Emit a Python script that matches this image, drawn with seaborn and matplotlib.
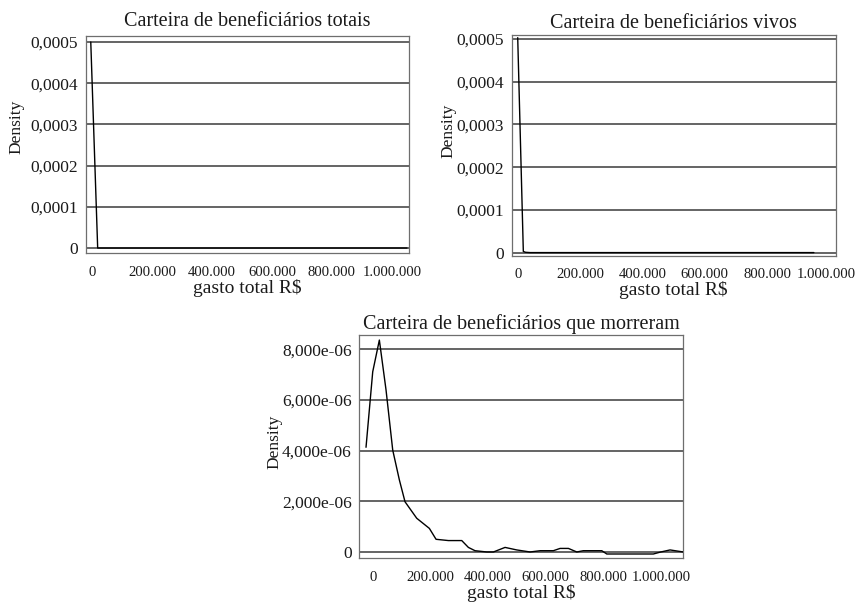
import matplotlib
matplotlib.use("Agg")
import matplotlib.pyplot as plt
import matplotlib.transforms as mtransforms
import seaborn as sns
import pandas as pd
from matplotlib.ticker import FixedLocator, FixedFormatter

# Density of total spending (R$) for each group of beneficiaries
totais_gasto = [-4000, 19000, 1050000]
totais_dens = [0.0005, 0.0, 0.0]

vivos_gasto = [0, 18000, 25000, 40000, 950000]
vivos_dens = [0.000503, 0.000003, 0.000001, 0.0000003, 0.0000003]

morreram_gasto = [-23300, 0, 23000, 46200, 69400, 92500, 112100, 152700, 196600,
                  219800, 262600, 309000, 332000, 355000, 395800, 418900, 459300,
                  500000, 546000, 580900, 627000, 650300, 679200, 708300, 731000,
                  795000, 812400, 974000, 1000000, 1032000, 1078000]
morreram_dens = [4.13e-6, 7.11e-6, 8.36e-6, 6.39e-6, 4.02e-6, 2.84e-6, 1.98e-6,
                 1.33e-6, 0.93e-6, 0.50e-6, 0.45e-6, 0.45e-6, 0.18e-6, 0.05e-6,
                 0.0, 0.0, 0.18e-6, 0.08e-6, 0.0, 0.05e-6, 0.05e-6, 0.14e-6,
                 0.14e-6, 0.0, 0.05e-6, 0.05e-6, -0.08e-6, -0.08e-6, 0.0,
                 0.08e-6, 0.0]

titulos = ["Carteira de beneficiários totais",
           "Carteira de beneficiários vivos",
           "Carteira de beneficiários que morreram"]

x_ticks = [0, 200000, 400000, 600000, 800000, 1000000]
x_ticklabels = ["0", "200.000", "400.000", "600.000", "800.000", "1.000.000"]

y_ticks_small = [0, 0.0001, 0.0002, 0.0003, 0.0004, 0.0005]
y_ticklabels_small = ["0", "0,0001", "0,0002", "0,0003", "0,0004", "0,0005"]

y_ticks_morreram = [0, 2e-6, 4e-6, 6e-6, 8e-6]
y_ticklabels_morreram = ["0", "2,000e-06", "4,000e-06", "6,000e-06", "8,000e-06"]

sns.set_theme(style="white")
plt.rcParams["font.family"] = ["Liberation Serif", "DejaVu Serif"]

fig = plt.figure(figsize=(8.58, 6.06), dpi=100)
fig.patch.set_facecolor("white")

paineis = [
    dict(pos=[0.1002, 0.5825, 0.3765, 0.3581], x=totais_gasto, y=totais_dens,
         xlim=(-20000, 1056667), ylim=(-0.0000121, 0.0005146),
         yt=y_ticks_small, ytl=y_ticklabels_small, title=titulos[0],
         tpad=7.5, ylab=(-0.19, 0.58), last_shift=0),
    dict(pos=[0.5964, 0.5781, 0.3776, 0.3642], x=vivos_gasto, y=vivos_dens,
         xlim=(-19250, 1020000), ylim=(-0.0000069, 0.0005093),
         yt=y_ticks_small, ytl=y_ticklabels_small, title=titulos[1],
         tpad=5.0, ylab=(-0.171, 0.565), last_shift=-3),
    dict(pos=[0.4188, 0.0787, 0.3776, 0.3685], x=morreram_gasto, y=morreram_dens,
         xlim=(-46500, 1078000), ylim=(-0.25e-6, 8.56e-6),
         yt=y_ticks_morreram, ytl=y_ticklabels_morreram, title=titulos[2],
         tpad=4.5, ylab=(-0.236, 0.52), last_shift=0),
]

grid_color = "#3a3a3a"
spine_color = "#6e6e6e"
text_color = "#1a1a1a"

for p in paineis:
    ax = fig.add_axes(p["pos"])
    df = pd.DataFrame({"gasto": p["x"], "dens": p["y"]})
    for v in p["yt"]:
        ax.axhline(v, color=grid_color, lw=1.1, zorder=1)
    sns.lineplot(data=df, x="gasto", y="dens", ax=ax, color="black",
                 lw=1.0, sort=False, zorder=3)
    ax.set_xlim(*p["xlim"])
    ax.set_ylim(*p["ylim"])
    ax.xaxis.set_major_locator(FixedLocator(x_ticks))
    ax.xaxis.set_major_formatter(FixedFormatter(x_ticklabels))
    ax.yaxis.set_major_locator(FixedLocator(p["yt"]))
    ax.yaxis.set_major_formatter(FixedFormatter(p["ytl"]))
    ax.tick_params(axis="both", which="major", direction="out", length=4,
                   width=0.9, color=spine_color, labelcolor=text_color)
    ax.tick_params(axis="y", labelsize=12.5, pad=1.5)
    ax.tick_params(axis="x", labelsize=10.6, pad=5)
    if p["last_shift"]:
        # keep the widest tick label inside the figure edge
        lab = ax.get_xticklabels()[-1]
        lab.set_transform(lab.get_transform() + mtransforms.ScaledTranslation(
            p["last_shift"] / 100, 0, fig.dpi_scale_trans))
    for s in ax.spines.values():
        s.set_color(spine_color)
        s.set_linewidth(0.9)
        s.set_visible(True)
    ax.set_title(p["title"], fontsize=14.5, color=text_color, pad=p["tpad"])
    ax.set_xlabel("gasto total R$", fontsize=14, color=text_color, labelpad=0)
    ax.set_ylabel("Density", fontsize=12.5, color=text_color)
    ax.yaxis.set_label_coords(*p["ylab"])
    ax.grid(False)

fig.savefig("out.png", dpi=100, facecolor="white")
